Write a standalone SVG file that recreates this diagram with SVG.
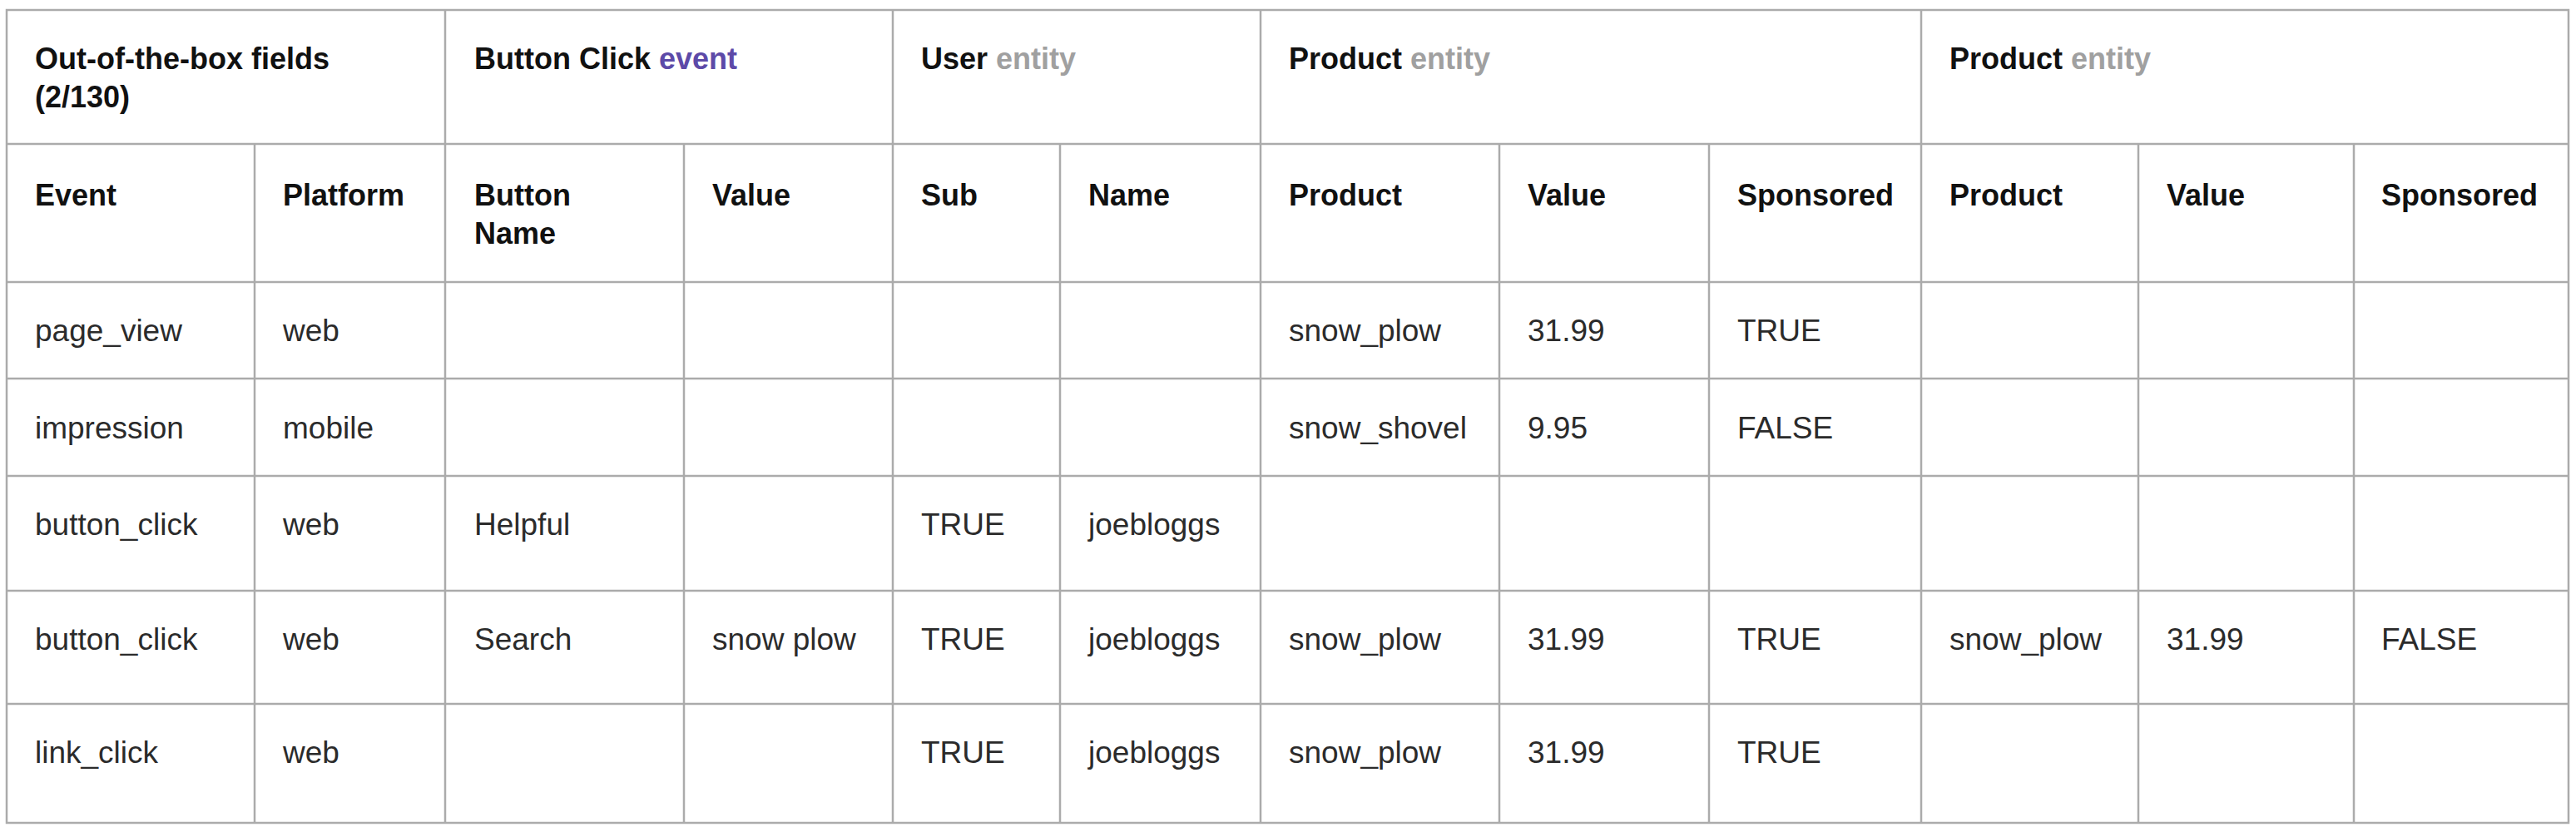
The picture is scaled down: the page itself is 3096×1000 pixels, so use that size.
<svg xmlns="http://www.w3.org/2000/svg" width="3096" height="1000" viewBox="0 0 3096 1000">
<style>
.g{stroke:#ababab;stroke-width:2.5;fill:none}
.h{font-family:"Liberation Sans",Arial,sans-serif;font-size:36px;font-weight:700;fill:#111}
.d{font-family:"Liberation Sans",Arial,sans-serif;font-size:37px;font-weight:400;fill:#2b2b2b}
.ev{fill:#5d4aa8}
.en{fill:#a0a0a0}
</style>
<rect width="3096" height="1000" fill="#fff"/>
<g id="grid" class="g">
<rect x="8" y="12" width="3079" height="977"/>
<path d="M8 173H3087M8 339H3087M8 455H3087M8 572H3087M8 710H3087M8 846H3087"/>
<path d="M535 12V989M1073 12V989M1515 12V989M2309 12V989"/>
<path d="M306 173V989M822 173V989M1274 173V989M1802 173V989M2054 173V989M2570 173V989M2829 173V989"/>
</g>
<g id="group-headers" class="h">
<text x="42" y="83">Out-of-the-box fields</text>
<text x="42" y="129">(2/130)</text>
<text x="570" y="83">Button Click <tspan class="ev">event</tspan></text>
<text x="1107" y="83">User <tspan class="en">entity</tspan></text>
<text x="1549" y="83">Product <tspan class="en">entity</tspan></text>
<text x="2343" y="83">Product <tspan class="en">entity</tspan></text>
</g>
<g id="column-headers" class="h">
<text x="42" y="247">Event</text>
<text x="340" y="247">Platform</text>
<text x="570" y="247">Button</text>
<text x="570" y="293">Name</text>
<text x="856" y="247">Value</text>
<text x="1107" y="247">Sub</text>
<text x="1308" y="247">Name</text>
<text x="1549" y="247">Product</text>
<text x="1836" y="247">Value</text>
<text x="2088" y="247">Sponsored</text>
<text x="2343" y="247">Product</text>
<text x="2604" y="247">Value</text>
<text x="2862" y="247">Sponsored</text>
</g>
<g id="row-1" class="d">
<text x="42" y="410">page_view</text>
<text x="340" y="410">web</text>
<text x="1549" y="410">snow_plow</text>
<text x="1836" y="410">31.99</text>
<text x="2088" y="410">TRUE</text>
</g>
<g id="row-2" class="d">
<text x="42" y="527">impression</text>
<text x="340" y="527">mobile</text>
<text x="1549" y="527">snow_shovel</text>
<text x="1836" y="527">9.95</text>
<text x="2088" y="527">FALSE</text>
</g>
<g id="row-3" class="d">
<text x="42" y="643">button_click</text>
<text x="340" y="643">web</text>
<text x="570" y="643">Helpful</text>
<text x="1107" y="643">TRUE</text>
<text x="1308" y="643">joebloggs</text>
</g>
<g id="row-4" class="d">
<text x="42" y="781">button_click</text>
<text x="340" y="781">web</text>
<text x="570" y="781">Search</text>
<text x="856" y="781">snow plow</text>
<text x="1107" y="781">TRUE</text>
<text x="1308" y="781">joebloggs</text>
<text x="1549" y="781">snow_plow</text>
<text x="1836" y="781">31.99</text>
<text x="2088" y="781">TRUE</text>
<text x="2343" y="781">snow_plow</text>
<text x="2604" y="781">31.99</text>
<text x="2862" y="781">FALSE</text>
</g>
<g id="row-5" class="d">
<text x="42" y="917">link_click</text>
<text x="340" y="917">web</text>
<text x="1107" y="917">TRUE</text>
<text x="1308" y="917">joebloggs</text>
<text x="1549" y="917">snow_plow</text>
<text x="1836" y="917">31.99</text>
<text x="2088" y="917">TRUE</text>
</g>
</svg>
